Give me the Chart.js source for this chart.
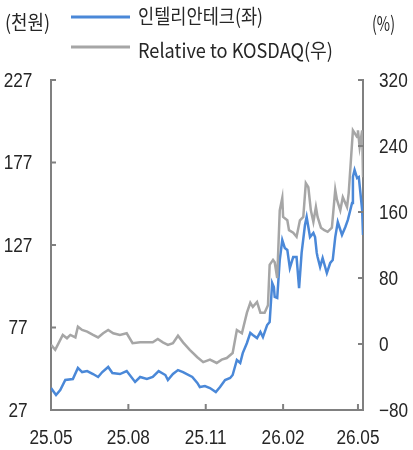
<!DOCTYPE html>
<html>
<head>
<meta charset="utf-8">
<script src="https://cdn.jsdelivr.net/npm/chart.js@4.4.1/dist/chart.umd.min.js"></script>
<style>
  html, body { margin: 0; padding: 0; background: #fff; }
  #wrap { width: 413px; height: 450px; }
</style>
</head>
<body>
<div id="wrap"><canvas id="myChart" width="413" height="450"></canvas></div>
<script>
'use strict'

// x = days since 2025-05-01
let tickDays = [0, 92, 184, 276, 365];
let tickLabels = ['25.05', '25.08', '25.11', '26.02', '26.05'];
let leftTicks = [27, 77, 127, 177, 227];
let rightTicks = [-80, 0, 80, 160, 240, 320];

// 인텔리안테크 주가 (천원, 좌)
let stockDays = [0, 6, 11, 17, 26, 32, 37, 43, 50, 56, 61, 68, 73, 82, 90, 100, 106, 114, 121, 128,
  136, 139, 145, 151, 157, 168, 174, 177, 183, 189, 196, 201, 207, 213, 216, 221, 225, 228, 233, 237,
  240, 245, 249, 252, 257, 260, 263, 265, 266, 269, 272, 275, 278, 281, 284, 288, 292, 295, 298, 302,
  304, 308, 312, 314, 316, 317, 320, 323, 328, 332, 335, 338, 341, 346, 350, 353, 358, 359, 361, 364,
  366, 370, 371];
let stockPrice = [40.3, 36.1, 39.1, 45.2, 45.8, 52.5, 50.0, 50.6, 48.8, 47.0, 50.0, 53.1, 49.4, 48.8, 50.6, 44.0, 47.0, 45.8, 47.0, 50.6,
  48.2, 45.2, 48.8, 51.2, 50.0, 47.0, 43.4, 40.9, 41.5, 40.3, 37.9, 40.9, 45.2, 46.4, 48.2, 57.3, 55.5, 61.5, 67.6, 73.7,
  72.5, 70.6, 74.3, 71.2, 78.5, 80.3, 104.0, 101.5, 95.5, 94.9, 117.9, 130.0, 125.2, 124.0, 113.1, 119.7, 119.7, 100.9, 122.2, 139.1,
  144.0, 131.8, 134.3, 131.8, 122.2, 119.7, 113.7, 119.1, 110.0, 116.1, 117.9, 131.8, 140.9, 133.1, 137.9, 142.2, 152.5, 168.2, 172.5, 167.6,
  168.2, 148.2, 133.1];

// Relative to KOSDAQ (%, 우)
let relDays = [0, 5, 8, 14, 19, 23, 29, 32, 37, 43, 50, 56, 62, 68, 74, 82, 90, 97, 106, 121,
  127, 133, 139, 145, 151, 157, 165, 174, 181, 189, 197, 203, 209, 216, 221, 227, 233, 237, 240, 245,
  249, 254, 258, 260, 264, 266, 269, 272, 275, 276, 281, 283, 288, 292, 296, 300, 303, 306, 309, 312,
  315, 317, 321, 325, 329, 334, 338, 340, 344, 347, 352, 354, 359, 364, 365, 367, 370, 371];
let relReturn = [-1, -7, -1, 11, 7, 11, 8, 21, 17, 15, 11, 8, 13, 17, 13, 11, 13, 1, 2, 2,
  6, 2, -1, 1, 10, 2, -7, -16, -22, -19, -23, -19, -17, -11, 17, 13, 38, 50, 45, 51,
  38, 38, 47, 96, 102, 99, 80, 162, 177, 154, 150, 138, 135, 130, 150, 154, 195, 190, 162, 148,
  166, 154, 141, 138, 136, 141, 187, 175, 162, 178, 166, 183, 259, 251, 259, 239, 259, 202];

let blue = '#4a88d8';
let gray = '#a6a6a6';
let axisColor = '#808080';
let textColor = '#262626';

function toPoints(xs, ys) {
  let pts = [];
  for (let i = 0; i < xs.length; i++) {
    pts.push({ x: xs[i], y: ys[i] });
  }
  return pts;
}

// squeeze text into a given width, like the condensed font in the original
function fitText(ctx, text, x, y, w) {
  let m = ctx.measureText(text).width;
  ctx.save();
  ctx.translate(x, y);
  ctx.scale(w / m, 1);
  ctx.fillText(text, 0, 0);
  ctx.restore();
}

// narrow number labels
function narrowText(ctx, text, x, y, align) {
  ctx.save();
  ctx.translate(x, y);
  ctx.scale(0.86, 1);
  ctx.textAlign = align;
  ctx.fillText(text, 0, 0);
  ctx.restore();
}

const extras = {
  id: 'extras',
  afterDraw(chart) {
    const ctx = chart.ctx;
    const area = chart.chartArea;
    const xs = chart.scales.x, yL = chart.scales.y, yR = chart.scales.y1;
    ctx.save();
    // inward tick marks
    ctx.strokeStyle = axisColor;
    ctx.lineWidth = 2;
    ctx.beginPath();
    leftTicks.forEach(v => {
      let p = yL.getPixelForValue(v);
      ctx.moveTo(area.left, p); ctx.lineTo(area.left + 5, p);
    });
    rightTicks.forEach(v => {
      let p = yR.getPixelForValue(v);
      ctx.moveTo(area.right, p); ctx.lineTo(area.right - 5, p);
    });
    tickDays.forEach(v => {
      let p = xs.getPixelForValue(v);
      ctx.moveTo(p, area.bottom); ctx.lineTo(p, area.bottom - 6);
    });
    ctx.stroke();

    // tick labels
    ctx.fillStyle = textColor;
    ctx.textBaseline = 'middle';
    ctx.font = '20px "Liberation Sans", Arial, sans-serif';
    leftTicks.forEach(v => {
      narrowText(ctx, String(v), 18, yL.getPixelForValue(v) + 1, 'center');
    });
    rightTicks.forEach(v => {
      let t = v < 0 ? '\u2212' + Math.abs(v) : String(v);
      narrowText(ctx, t, 379, yR.getPixelForValue(v) + 1, 'left');
    });
    tickDays.forEach((v, i) => {
      narrowText(ctx, tickLabels[i], xs.getPixelForValue(v), 438, 'center');
    });

    // legend
    ctx.lineWidth = 3;
    ctx.strokeStyle = blue;
    ctx.beginPath(); ctx.moveTo(71, 17); ctx.lineTo(130, 17); ctx.stroke();
    ctx.strokeStyle = gray;
    ctx.beginPath(); ctx.moveTo(71, 47); ctx.lineTo(130, 47); ctx.stroke();

    ctx.textAlign = 'left';
    ctx.font = '20px "Noto Sans CJK KR", sans-serif';
    fitText(ctx, '인텔리안테크(좌)', 138, 16, 125);
    fitText(ctx, 'Relative to KOSDAQ(우)', 138, 50, 195);
    fitText(ctx, '(천원)', 5, 22, 45);
    fitText(ctx, '(%)', 372, 23, 23);
    ctx.restore();
  }
};

const ctx = document.getElementById('myChart');

new Chart(ctx, {
  type: 'line',
  data: {
    datasets: [{
      label: '인텔리안테크(좌)',
      data: toPoints(stockDays, stockPrice),
      borderColor: blue,
      borderWidth: 2.5,
      pointRadius: 0,
      tension: 0,
      yAxisID: 'y',
      order: 1
    }, {
      label: 'Relative to KOSDAQ(우)',
      data: toPoints(relDays, relReturn),
      borderColor: gray,
      borderWidth: 2.5,
      pointRadius: 0,
      tension: 0,
      yAxisID: 'y1',
      order: 0
    }]
  },
  options: {
    responsive: false,
    animation: false,
    layout: { padding: { top: 80, left: 0, right: 0, bottom: 0 } },
    plugins: { legend: { display: false }, tooltip: { enabled: false } },
    scales: {
      x: {
        type: 'linear',
        min: 0,
        max: 371,
        afterBuildTicks: s => { s.ticks = tickDays.map(v => ({ value: v })); },
        afterFit: s => { s.height = 40; },
        grid: { display: false, drawTicks: false },
        border: { display: true, color: axisColor, width: 2 },
        ticks: { display: false }
      },
      y: {
        position: 'left',
        min: 27,
        max: 227,
        afterBuildTicks: s => { s.ticks = leftTicks.map(v => ({ value: v })); },
        afterFit: s => { s.width = 51; },
        grid: { display: false, drawTicks: false },
        border: { display: true, color: axisColor, width: 2 },
        ticks: { display: false }
      },
      y1: {
        position: 'right',
        min: -80,
        max: 320,
        afterBuildTicks: s => { s.ticks = rightTicks.map(v => ({ value: v })); },
        afterFit: s => { s.width = 50; },
        grid: { display: false, drawTicks: false },
        border: { display: true, color: axisColor, width: 2 },
        ticks: { display: false }
      }
    }
  },
  plugins: [extras]
});
</script>
</body>
</html>
